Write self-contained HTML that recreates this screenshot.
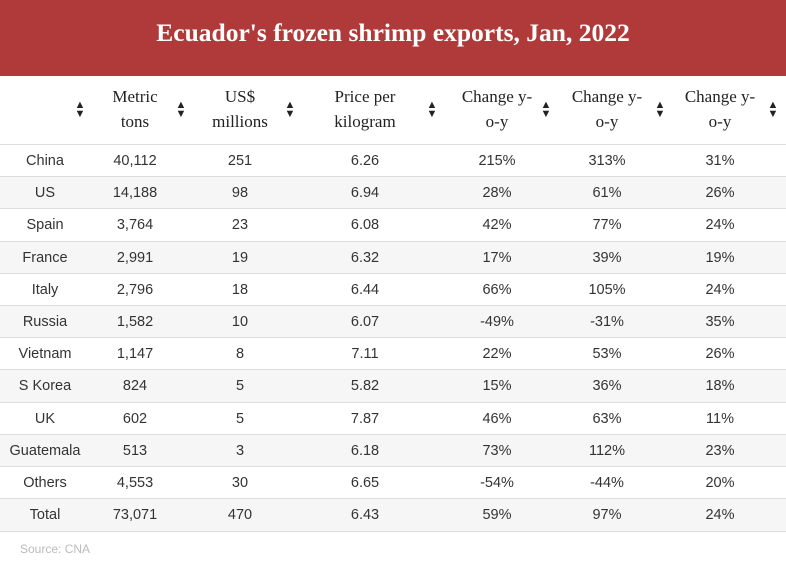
<!DOCTYPE html>
<html><head><meta charset="utf-8"><style>
body{margin:0;width:786px;height:565px;background:#fff;position:relative;overflow:hidden;font-family:"Liberation Sans",sans-serif;}
#title{position:absolute;left:0;top:0;width:786px;height:76px;background:#b03a3a;color:#fff;font-family:"Liberation Serif",serif;font-weight:bold;font-size:25.5px;text-align:center;line-height:66px;}
.h{position:absolute;font-family:"Liberation Serif",serif;font-size:17px;color:#222;text-align:center;line-height:25px;transform:translateX(-50%);white-space:nowrap;}
.ic{position:absolute;font-size:11px;line-height:9px;color:#222;transform:translateX(-50%);text-align:center;}
.row{position:absolute;left:0;width:786px;border-top:1px solid #ddd;}
.c{position:absolute;font-size:14.5px;color:#333;transform:translateX(-50%);white-space:nowrap;}
#src{position:absolute;left:20px;top:542px;font-size:12px;color:#bbb;}
</style></head><body>
<div id="title">Ecuador's frozen shrimp exports, Jan, 2022</div>
<div id="tbl"></div>
<div id="src">Source: CNA</div>
<script>
const headers=[["",""],["Metric","tons"],["US$","millions"],["Price per","kilogram"],["Change y-","o-y"],["Change y-","o-y"],["Change y-","o-y"]];
const countries=["China","US","Spain","France","Italy","Russia","Vietnam","S Korea","UK","Guatemala","Others","Total"];
const tons=["40,112","14,188","3,764","2,991","2,796","1,582","1,147","824","602","513","4,553","73,071"];
const usd=["251","98","23","19","18","10","8","5","5","3","30","470"];
const price=["6.26","6.94","6.08","6.32","6.44","6.07","7.11","5.82","7.87","6.18","6.65","6.43"];
const chg1=["215%","28%","42%","17%","66%","-49%","22%","15%","46%","73%","-54%","59%"];
const chg2=["313%","61%","77%","39%","105%","-31%","53%","36%","63%","112%","-44%","97%"];
const chg3=["31%","26%","24%","19%","24%","35%","26%","18%","11%","23%","20%","24%"];
const cx=[45,135,240,365,497,607,720], ix=[80,181,290,432,546,660,773];
const tbl=document.getElementById('tbl');
headers.forEach((h,i)=>{
 const d=document.createElement('div');d.className='h';
 
 
 d.style.left=cx[i]+'px';d.style.top='84px';d.innerHTML=h[0]+'<br>'+h[1];tbl.appendChild(d);
 const s=document.createElement('div');s.className='ic';
 
 
 s.style.left=ix[i]+'px';s.style.top='101px';s.innerHTML='▲<br>▼';tbl.appendChild(s);
});
const cols=[countries,tons,usd,price,chg1,chg2,chg3];
const top0=144,rh=32.2;
countries.forEach((c,r)=>{
 const row=document.createElement('div');row.className='row';
 
 
 row.style.top=(top0+r*rh)+'px';row.style.height=rh+'px';
 row.style.background=r%2?'#f6f6f6':'#fff';
 if(r==countries.length-1)row.style.borderBottom='1px solid #ddd';
 cols.forEach((col,i)=>{
  const d=document.createElement('div');d.className='c';
  
  
  d.style.left=cx[i]+'px';d.style.top='8px';d.textContent=col[r];row.appendChild(d);
 });
 tbl.appendChild(row);
});
</script>
</body></html>
